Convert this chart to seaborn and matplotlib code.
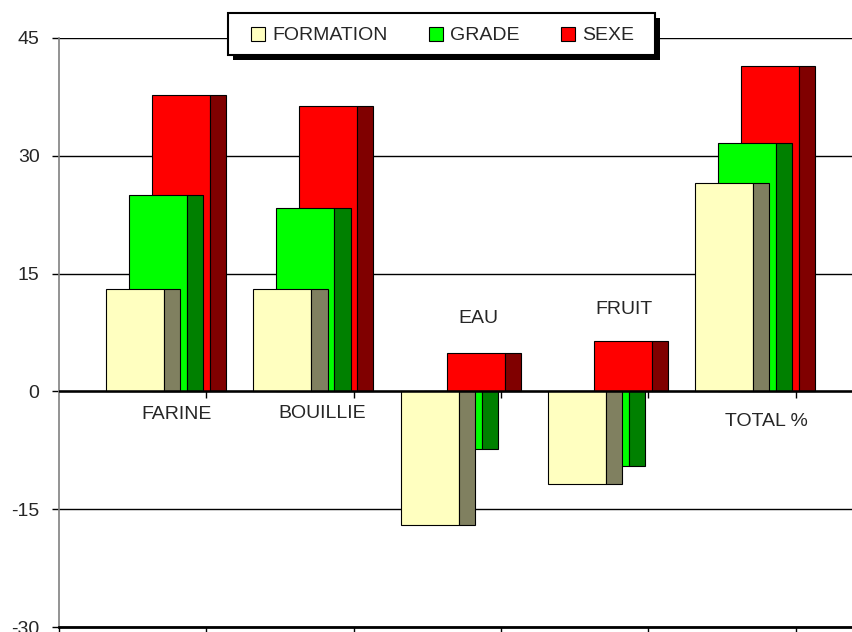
import numpy as np
import pandas as pd
import seaborn as sns
import matplotlib
matplotlib.use("Agg")
import matplotlib.pyplot as plt
from matplotlib.patches import Patch, Rectangle

# data
categories = ['FARINE', 'BOUILLIE', 'EAU', 'FRUIT', 'TOTAL %']
series = ['FORMATION', 'GRADE', 'SEXE']
formation = [13.0, 13.0, -17.0, -11.8, 26.5]
grade = [25.0, 23.3, -7.3, -9.5, 31.6]
sexe = [37.7, 36.3, 4.9, 6.4, 41.4]

df = pd.DataFrame({'FORMATION': formation, 'GRADE': grade, 'SEXE': sexe}, index=categories)

front_cols = ['#FFFFC0', '#00FF00', '#FF0000']
side_cols = ['#808060', '#008000', '#800000']

# layout of the pseudo-3d columns (in category units)
x0 = 0.32       # left of first series inside a category
shift = 0.156   # depth shift per series
w_front = 0.394
w_side = 0.109
label_x = [0.80, 1.785, 2.85, 3.835, 4.80]
label_y = [-2.9, -2.8, 9.3, 10.4, -3.8]

sns.set_theme(style="white")
plt.rcParams['font.family'] = ['Liberation Sans', 'DejaVu Sans']

fig = plt.figure(figsize=(8.53, 6.32), dpi=100)
ax = fig.add_axes([59/853, 5/632, 1 - 59/853, 589/632])

idx = np.arange(len(categories))
# back series first so front series overlaps it
for s in [2, 1, 0]:
    vals = df[series[s]].values
    left = idx + x0 + s*shift
    ax.bar(left, vals, width=w_front, align='edge', color=front_cols[s],
           edgecolor='black', linewidth=0.8, zorder=3 + (2 - s))
    ax.bar(left + w_front, vals, width=w_side, align='edge', color=side_cols[s],
           edgecolor='black', linewidth=0.8, zorder=3 + (2 - s))

ax.set_xlim(0, (853 - 59)/147.3)
ax.set_ylim(-30, 45)
ax.set_yticks([-30, -15, 0, 15, 30, 45])
ax.set_yticklabels(['-30', '-15', '0', '15', '30', '45'], fontsize=14)
ax.set_xticks(np.arange(0, 6))
ax.set_xticklabels([])
ax.tick_params(axis='y', direction='out', length=5, width=1, color='black', pad=9, left=True)
ax.tick_params(axis='x', direction='out', length=4, width=1, color='black', bottom=True)

ax.yaxis.grid(True, color='black', linewidth=1)
ax.set_axisbelow(True)
ax.axhline(0, color='black', linewidth=1.8, zorder=6)
ax.vlines(np.arange(1, 6), -0.8, 0, color='black', linewidth=1, zorder=6)

for side in ['top', 'right']:
    ax.spines[side].set_visible(False)
ax.spines['left'].set_color('#808080')
ax.spines['left'].set_linewidth(1.2)
ax.spines['bottom'].set_color('black')
ax.spines['bottom'].set_linewidth(2)

for i, name in enumerate(categories):
    ax.text(label_x[i], label_y[i], name, ha='center', va='center', fontsize=14, zorder=7)

# legend with a boxed frame and hard black shadow
W, H = 853, 632
shadow = Rectangle((233/W, 1 - 60/H), (655 - 228)/W, (55 - 12.7)/H,
                   transform=fig.transFigure, facecolor='black', edgecolor='none', zorder=4.4)
frame = Rectangle((228/W, 1 - 55/H), (655 - 228)/W, (55 - 12.7)/H,
                  transform=fig.transFigure, facecolor='white', edgecolor='black',
                  linewidth=1.5, zorder=4.5)
fig.add_artist(shadow)
fig.add_artist(frame)
handles = [Patch(facecolor=front_cols[s], edgecolor='black', linewidth=0.8) for s in range(3)]
fig.legend(handles, series, loc='center left', bbox_to_anchor=(251/W, 1 - 35.5/H),
           ncol=3, frameon=False, fontsize=14, borderpad=0, borderaxespad=0,
           handlelength=0.72, handleheight=0.75, handletextpad=0.36, columnspacing=2.15)

fig.savefig('out.png', dpi=100)
